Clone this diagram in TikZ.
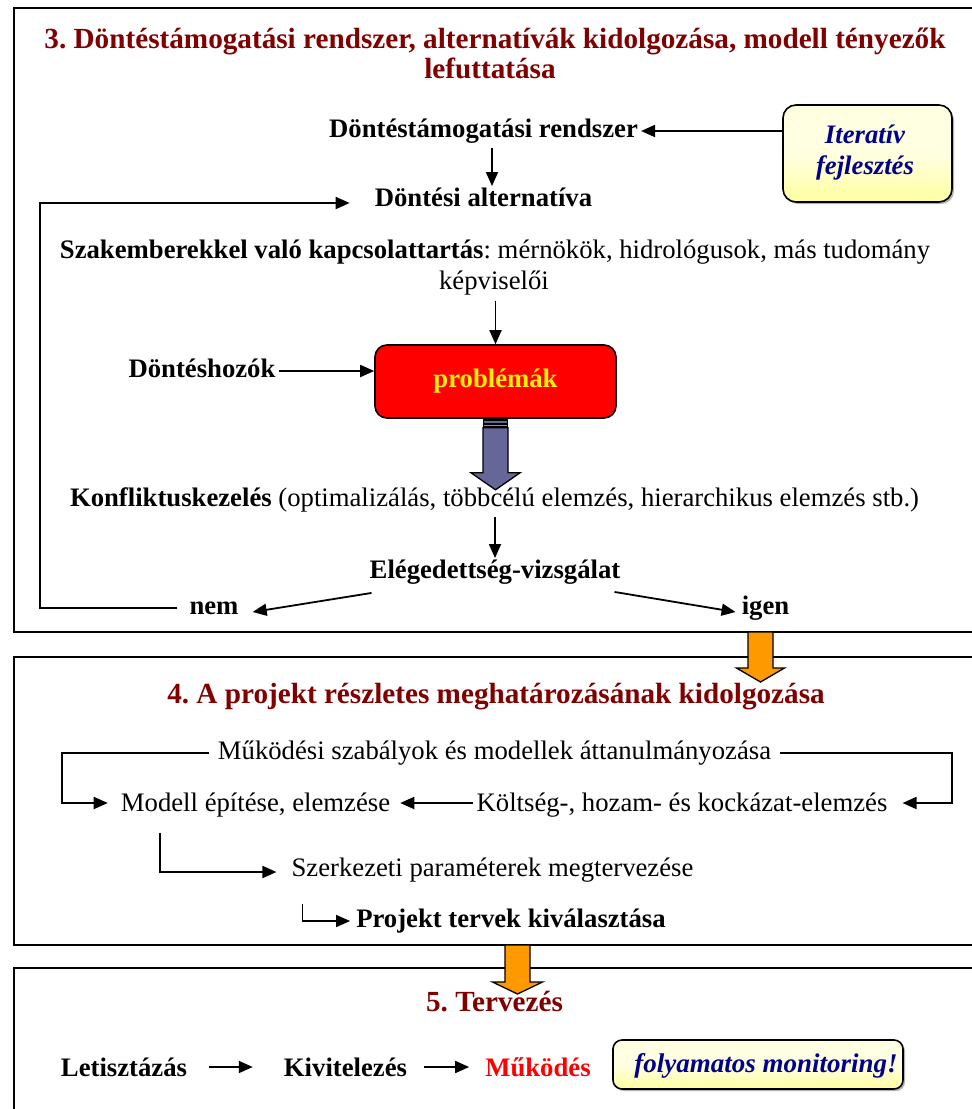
\documentclass[tikz,border=0pt]{standalone}
\usepackage{fontspec}
\setmainfont{Liberation Serif}
\usetikzlibrary{arrows.meta,shadows,calc}
\definecolor{maroon}{RGB}{128,0,0}
\definecolor{navyb}{RGB}{0,0,140}
\definecolor{fatblue}{RGB}{102,102,153}
\definecolor{orangea}{RGB}{255,153,0}
\definecolor{yl}{RGB}{255,255,160}
\definecolor{yh}{RGB}{255,255,225}
\frenchspacing
\begin{document}
\begin{tikzpicture}[x=1pt,y=-1pt,
  txt/.style={inner sep=0pt, text height=19pt, text depth=6.5pt, font=\fontsize{26.7}{31}\selectfont},
  btxt/.style={txt, font=\fontsize{26.7}{31}\selectfont\bfseries},
  ttl/.style={inner sep=0pt, text height=20pt, text depth=7pt, text=maroon, font=\fontsize{29.2}{30}\selectfont\bfseries},
  arr/.style={line width=1.8pt, -{Triangle[length=14pt,width=12pt]}},
  frame/.style={line width=2pt},
  ybox/.style={draw=black, line width=1.6pt, rounded corners=13pt, top color=yh, bottom color=yl, middle color=yh,
     drop shadow={shadow xshift=2pt, shadow yshift=-2pt, fill=black!60}},
  blockarr/.style={draw=black, line width=1.3pt, line join=miter}
]
\useasboundingbox (0,0) rectangle (972,1109);
\clip (0,0) rectangle (972,1109);
\fill[white] (0,0) rectangle (972,1109);

% frames
\draw[frame] (1000,8) -- (14,8) -- (14,632) -- (1000,632);
\draw[frame] (1000,657) -- (14,657) -- (14,945) -- (1000,945);
\draw[frame] (1000,968) -- (14,968) -- (14,1130);

% ---------- box 3 ----------
\node[ttl] (t3a) at (495,42) {3. Döntéstámogatási rendszer, alternatívák kidolgozása, modell tényezők};
\node[ttl] (t3b) at (490,72) {lefuttatása};

\node[btxt] (dtr) at (483.5,131) {Döntéstámogatási rendszer};
\node[ybox, minimum width=169pt, minimum height=97pt] (iter) at (867.5,153.5) {};
\node[inner sep=0pt, align=center, text=navyb, font=\fontsize{26.7}{31}\selectfont\bfseries\itshape] (itert) at (865,153) {Iteratív\\fejlesztés};
\draw[arr] (iter.west |- dtr.east) -- ([xshift=3]dtr.east);

\node[btxt] (alt) at (483.5,200) {Döntési alternatíva};
\coordinate (ax) at (492,0);
\draw[arr] ([shift={(0,4)}]ax |- dtr.south) -- ([shift={(0,-1)}]ax |- alt.north);

\node[txt] (szak1) at (495,252) {\textbf{Szakemberekkel való kapcsolattartás}: mérnökök, hidrológusok, más tudomány};
\node[txt] (szak2) at (494,283) {képviselői};

\node[btxt] (dh) at (202,371) {Döntéshozók};
\node[draw=black, line width=1.6pt, fill=red, rounded corners=12pt, minimum width=241pt, minimum height=73pt,
      text=yellow, font=\fontsize{26.7}{31}\selectfont\bfseries] (prob) at (495.5,381.5) {problémák};
\draw[arr] ([shift={(0,5)}]prob.north |- szak2.south) -- (prob.north);
\draw[arr] ([xshift=3]dh.east) -- (prob.west |- dh.east);

% fat arrow
\begin{scope}[shift={(prob.south)}]
  \fill[black] (-12.5,-1) rectangle (12.5,9);
  \fill[fatblue] (-11.5,2.5) rectangle (11.5,4.5);
  \fill[fatblue!70] (-11.5,6) rectangle (11.5,7.5);
  \draw[blockarr, fill=fatblue] (-12.5,9) -- (12.5,9) -- (12.5,54) -- (24.5,54) -- (0,71) -- (-24.5,54) -- (-12.5,54) -- cycle;
\end{scope}

\node[txt] (konf) at (494.5,500) {\textbf{Konfliktuskezelés} (optimalizálás, többcélú elemzés, hierarchikus elemzés stb.)};
\node[btxt] (eleg) at (495,572) {Elégedettség-vizsgálat};
\draw[arr] ([shift={(0,4)}]eleg.north |- konf.south) -- ([shift={(0,-1)}]eleg.north);

\node[btxt] (nem) at (214,608) {nem};
\node[btxt] (igen) at (765.5,608) {igen};
\draw[arr] ([shift={(2,8)}]eleg.south west) -- ([shift={(14,4)}]nem.east);
\draw[arr] ([shift={(-6,7)}]eleg.south east) -- ([shift={(-6,4)}]igen.west);
\coordinate (lp) at (40,400);
\draw[arr] ([xshift=-12]nem.west) -| (lp) |- ([shift={(-25,3)}]alt.west);

% orange arrow 3 -> 4
\begin{scope}[shift={(760.5,632)}]
  \draw[blockarr, fill=orangea] (-12.5,0) -- (12.5,0) -- (12.5,36) -- (24,36) -- (0,50) -- (-24,36) -- (-12.5,36) -- cycle;
\end{scope}

% ---------- box 4 ----------
\node[ttl] (t4) at (496,697) {4. A projekt részletes meghatározásának kidolgozása};
\node[txt] (mk) at (494.5,753) {Működési szabályok és modellek áttanulmányozása};
\node[txt] (me) at (255.5,805) {Modell építése, elemzése};
\node[txt] (kh) at (682,805) {Költség-, hozam- és kockázat-elemzés};
\node[txt] (sz) at (492.5,870) {Szerkezeti paraméterek megtervezése};
\node[btxt] (pt) at (511,921) {Projekt tervek kiválasztása};
\coordinate (lx4) at (62,780);
\coordinate (rx4) at (952,780);
\draw[arr] ([xshift=-9]mk.west) -| (lx4) |- ([shift={(-13,-2)}]me.west);
\draw[arr] ([xshift=9]mk.east) -| (rx4) |- ([shift={(15,-2)}]kh.east);
\draw[arr] ([shift={(-3,-2)}]kh.west) -- ([shift={(10,-2)}]me.east);
\draw[arr] ([shift={(39,15)}]me.south west) |- ([shift={(-15,2)}]sz.west);
\draw[arr] ([shift={(11,21)}]sz.south west) |- ([xshift=-6]pt.west);

% orange arrow 4 -> 5
\begin{scope}[shift={(517.5,945)}]
  \draw[blockarr, fill=orangea] (-12.5,0) -- (12.5,0) -- (12.5,37) -- (25,37) -- (0,49) -- (-25,37) -- (-12.5,37) -- cycle;
\end{scope}

% ---------- box 5 ----------
\node[ttl] (t5) at (494.5,1005) {5. Tervezés};
\node[btxt] (let) at (124,1070) {Letisztázás};
\node[btxt] (kiv) at (345.5,1070) {Kivitelezés};
\node[btxt, text=red] (mu) at (538,1070) {Működés};
\node[ybox, rounded corners=9pt, minimum width=290pt, minimum height=49pt] (mon) at (758,1064.5) {};
\node[inner sep=0pt, text height=19pt, text depth=6.5pt, text=navyb, font=\fontsize{27}{31}\selectfont\bfseries\itshape] (mont) at (766,1066) {folyamatos monitoring!};
\draw[arr] ([shift={(22,-3)}]let.east) -- ([shift={(-31,-3)}]kiv.west);
\draw[arr] ([shift={(17,-3)}]kiv.east) -- ([shift={(-16,-3)}]mu.west);
\end{tikzpicture}
\end{document}
